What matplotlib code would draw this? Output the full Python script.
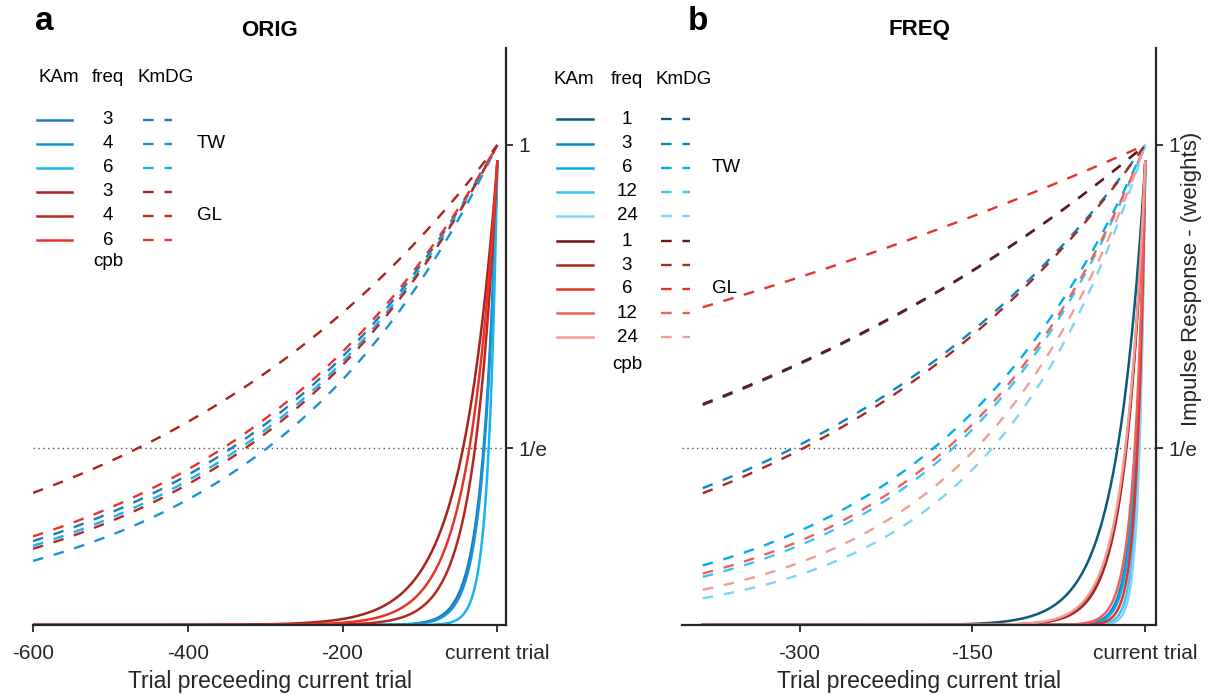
import numpy as np
import matplotlib
matplotlib.use("Agg")
import matplotlib.pyplot as plt
from matplotlib.lines import Line2D

plt.rcParams['font.family'] = ['Liberation Sans', 'DejaVu Sans']

# ---- data: time constants (trials) read off the 1/e crossings ----
# panel a (ORIG)
orig_freq = [3, 4, 6]
orig_tw_solid = [18.5, 17.5, 11.6]
orig_gl_solid = [46, 30, 37.5]
orig_tw_dash = [344, 298, 333]
orig_gl_dash = [465, 326, 355]
orig_tw_col = ['#1b7cba', '#1a93d6', '#17b6f0']
orig_gl_col = ['#a8231c', '#b8281f', '#e8332a']
orig_ntrials = 600

# panel b (FREQ)
freq_freq = [1, 3, 6, 12, 24]
freq_tw_solid = [25, 8.5, 8, 6, 5.2]
freq_gl_solid = [17.5, 17, 7, 9.5, 18]
freq_tw_dash = [492, 306, 184, 167, 133]
freq_gl_dash = [495, 297, 931, 172, 147]
freq_tw_col = ['#0b5a7c', '#0a86c2', '#00aeef', '#3cc3f5', '#7fd5f9']
freq_gl_col = ['#6e1510', '#a82a1e', '#e8302a', '#f0605a', '#f39c96']
freq_ntrials = 384

solid_peak = 0.965   # KAm kernels top out just under 1
inv_e = np.exp(-1)

W, H = 1217, 695
fig = plt.figure(figsize=(W / 100, H / 100), dpi=100)


def px_axes(l, t, r, b):
    return fig.add_axes([l / W, 1 - b / H, (r - l) / W, (b - t) / H])


def kernel(n, tau, peak=1.0):
    t = np.linspace(-n, 0, 4 * n + 1)
    return t, peak * np.exp(t / tau)


def style(ax, xlim, xticks, xlabels, title):
    for s in ['left', 'top']:
        ax.spines[s].set_visible(False)
    for s in ['right', 'bottom']:
        ax.spines[s].set_linewidth(1.6)
        ax.spines[s].set_color('#262626')
    ax.yaxis.tick_right()
    ax.set_xlim(*xlim)
    ax.set_ylim(0, 1.202)
    ax.set_yticks([inv_e, 1])
    ax.set_yticklabels(['1/e', '1'])
    ax.set_xticks(xticks)
    ax.set_xticklabels(xlabels)
    ax.tick_params(direction='out', length=5, width=1.3, labelsize=15,
                   colors='#262626', pad=4)
    ax.tick_params(axis='x', pad=8.5)
    ax.axhline(inv_e, color='#555555', ls=(0, (1, 2.5)), lw=1.0, zorder=0)
    ax.set_xlabel('Trial preceeding current trial', fontsize=16.5,
                  color='#262626', labelpad=5)
    ax.set_title(title, fontsize=16, fontweight='bold', pad=9)


dash = (0, (4.5, 4.6))


def draw_panel(ax, n, taus_solid, taus_dash, cols):
    for tau, c in zip(taus_dash, cols):
        t, y = kernel(n, tau)
        ax.plot(t, y, color=c, lw=1.7, ls=dash)
    for tau, c in zip(taus_solid, cols):
        t, y = kernel(n, tau, solid_peak)
        ax.plot(t, y, color=c, lw=1.8)


ax_a = px_axes(33, 48, 506, 625)
draw_panel(ax_a, orig_ntrials, orig_tw_solid + orig_gl_solid,
           orig_tw_dash + orig_gl_dash, orig_tw_col + orig_gl_col)
style(ax_a, (-600, 11.2), [-600, -400, -200, 0],
      ['-600', '-400', '-200', 'current trial'], 'ORIG')

ax_b = px_axes(682, 48, 1156, 625)
draw_panel(ax_b, freq_ntrials, freq_tw_solid + freq_gl_solid,
           freq_tw_dash + freq_gl_dash, freq_tw_col + freq_gl_col)
style(ax_b, (-402, 9.3), [-300, -150, 0],
      ['-300', '-150', 'current trial'], 'FREQ')
ax_b.set_ylabel('Impulse Response - (weights)', fontsize=16, color='#262626')
ax_b.yaxis.set_label_position('right')
ax_b.yaxis.set_label_coords(1.052, 0.6)


# ---- hand-made key tables ----
def ftext(x, y, s, **kw):
    fig.text(x / W, 1 - y / H, s, fontsize=13.5, va='center', **kw)


def fline(x0, x1, y, **kw):
    fig.add_artist(Line2D([x0 / W, x1 / W], [1 - y / H] * 2,
                          transform=fig.transFigure, **kw))


def draw_key(freqs, cols, head_y, head_x, rows_y, xs, x_num, xd, x_grp,
             grp_rows, cpb_y):
    for hx, s in zip(head_x, ['KAm', 'freq', 'KmDG']):
        ftext(hx, head_y, s, ha='center')
    for f, c, y in zip(freqs, cols, rows_y):
        fline(xs[0], xs[1], y, color=c, lw=1.8)
        ftext(x_num, y, str(f), ha='center')
        fline(xd[0], xd[1], y, color=c, lw=1.7, ls=dash)
    ftext(x_grp, grp_rows[0], 'TW', ha='left')
    ftext(x_grp, grp_rows[1], 'GL', ha='left')
    ftext(x_num, cpb_y, 'cpb', ha='center')


rows_a = [120, 144, 168, 192, 216, 240]
draw_key(orig_freq * 2, orig_tw_col + orig_gl_col, 78, (59, 108, 166),
         rows_a, (37, 72), 108, (143, 172), 197, (144, 216), 262)

rows_b = [119, 144, 168, 192, 216, 241, 265, 289, 313, 337]
draw_key(freq_freq * 2, freq_tw_col + freq_gl_col, 80, (574, 627, 684),
         rows_b, (557, 593), 627, (661, 690), 712, (168, 289), 365)

fig.text(44 / W, 1 - 22 / H, 'a', fontsize=24, fontweight='bold',
         ha='center', va='center')
fig.text(698 / W, 1 - 22 / H, 'b', fontsize=24, fontweight='bold',
         ha='center', va='center')

fig.savefig('out.png', dpi=100, facecolor='white')
